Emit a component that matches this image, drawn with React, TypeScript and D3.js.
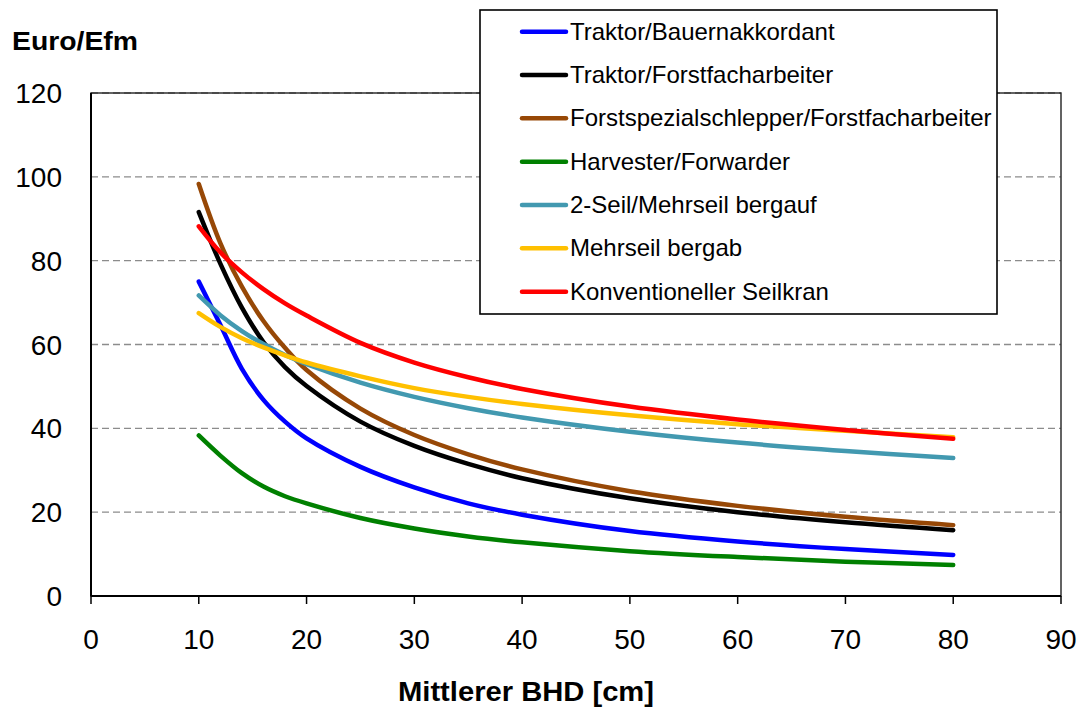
import React from "react";
import * as d3 from "d3";

// Mittlerer BHD [cm]
const bhd = [10, 12, 14, 16, 18, 20, 25, 30, 35, 40, 50, 60, 70, 80];

// Euro/Efm per Verfahren
const traktorBauernakkordant = [75.0, 64.7, 54.2, 46.8, 41.6, 37.6, 30.8, 25.9, 22.1, 19.4, 15.5, 13.0, 11.2, 9.8];
const traktorForstfacharbeiter = [91.6, 79.3, 68.8, 60.6, 54.6, 50.1, 41.6, 35.8, 31.5, 28.1, 23.3, 20.0, 17.6, 15.7];
const forstspezialschlepper = [98.3, 84.2, 73.8, 65.6, 59.2, 53.9, 44.7, 38.4, 33.8, 30.2, 25.0, 21.5, 18.9, 16.9];
const harvesterForwarder = [38.3, 33.5, 29.3, 26.1, 23.8, 22.1, 18.6, 16.1, 14.2, 12.8, 10.7, 9.3, 8.2, 7.4];
const zweiSeilBergauf = [71.7, 67.0, 63.2, 60.1, 57.5, 55.3, 50.9, 47.5, 44.8, 42.6, 39.2, 36.6, 34.6, 32.9];
const mehrseilBergab = [67.5, 64.2, 61.5, 59.3, 57.4, 55.7, 52.4, 49.6, 47.5, 45.8, 43.1, 41.0, 39.4, 37.9];
const konventionellerSeilkran = [88.2, 82.0, 77.2, 73.2, 69.8, 66.9, 60.4, 55.7, 52.2, 49.4, 45.2, 42.1, 39.6, 37.5];

const seriesNames = [
  "Traktor/Bauernakkordant",
  "Traktor/Forstfacharbeiter",
  "Forstspezialschlepper/Forstfacharbeiter",
  "Harvester/Forwarder",
  "2-Seil/Mehrseil bergauf",
  "Mehrseil bergab",
  "Konventioneller Seilkran",
];
const seriesValues = [
  traktorBauernakkordant,
  traktorForstfacharbeiter,
  forstspezialschlepper,
  harvesterForwarder,
  zweiSeilBergauf,
  mehrseilBergab,
  konventionellerSeilkran,
];
const seriesColors = ["#0000FF", "#000000", "#974806", "#008000", "#4299B0", "#FFC000", "#FF0000"];

const xTicks = [0, 10, 20, 30, 40, 50, 60, 70, 80, 90];
const yTicks = [0, 20, 40, 60, 80, 100, 120];

const W = 1082;
const H = 709;
const left = 91;
const right = 1061;
const top = 93;
const bottom = 596;

const FONT = "'Liberation Sans', Arial, sans-serif";

export default function App() {
  const x = d3.scaleLinear().domain([0, 90]).range([left, right]);
  const y = d3.scaleLinear().domain([0, 120]).range([bottom, top]);

  const line = d3
    .line<number>()
    .x((_, i) => x(bhd[i]))
    .y((d) => y(d))
    .curve(d3.curveCatmullRom.alpha(0.5));

  const legendX = 480;
  const legendY = 10;
  const legendW = 517;
  const legendH = 304;
  const rowY = (i: number) => 31.7 + i * 43.33;

  return (
    <svg
      width={W}
      height={H}
      viewBox={`0 0 ${W} ${H}`}
      style={{ position: "absolute", left: 0, top: 0, background: "#fff" }}
      fontFamily={FONT}
    >
      <rect x={0} y={0} width={W} height={H} fill="#fff" />

      {/* horizontal gridlines */}
      {yTicks.slice(1).map((t) => (
        <line
          key={`g${t}`}
          x1={left}
          x2={right}
          y1={y(t)}
          y2={y(t)}
          stroke="#8c8c8c"
          strokeWidth={1.3}
          strokeDasharray="7,4"
        />
      ))}

      {/* plot frame */}
      <rect x={left} y={top} width={right - left} height={bottom - top} fill="none" stroke="#222" strokeWidth={1.4} />
      <line x1={left} x2={left} y1={top} y2={bottom} stroke="#000" strokeWidth={2} />
      <line x1={left} x2={right} y1={bottom} y2={bottom} stroke="#000" strokeWidth={2} />

      {/* x ticks */}
      {xTicks.map((t) => (
        <g key={`xt${t}`}>
          <line x1={x(t)} x2={x(t)} y1={bottom} y2={bottom + 8} stroke="#000" strokeWidth={1.5} />
          <text x={x(t)} y={649} textAnchor="middle" fontSize={28} fill="#000">
            {t}
          </text>
        </g>
      ))}

      {/* y tick labels */}
      {yTicks.map((t) => (
        <text key={`yt${t}`} x={62} y={y(t) + 10} textAnchor="end" fontSize={28} fill="#000">
          {t}
        </text>
      ))}

      {/* series */}
      {seriesValues.map((vals, i) => (
        <path
          key={seriesNames[i]}
          d={line(vals) ?? ""}
          fill="none"
          stroke={seriesColors[i]}
          strokeWidth={4.5}
          strokeLinecap="round"
          strokeLinejoin="round"
        />
      ))}

      {/* axis titles */}
      <text x={12} y={50} fontSize={25} fontWeight="bold" fill="#000" textLength={126} lengthAdjust="spacingAndGlyphs">
        Euro/Efm
      </text>
      <text
        x={398}
        y={701}
        fontSize={27}
        fontWeight="bold"
        fill="#000"
        textLength={256}
        lengthAdjust="spacingAndGlyphs"
      >
        Mittlerer BHD [cm]
      </text>

      {/* legend */}
      <rect x={legendX} y={legendY} width={legendW} height={legendH} fill="#fff" stroke="#000" strokeWidth={1.6} />
      {seriesNames.map((name, i) => (
        <g key={`lg${i}`}>
          <line
            x1={522}
            x2={566}
            y1={rowY(i)}
            y2={rowY(i)}
            stroke={seriesColors[i]}
            strokeWidth={4.5}
            strokeLinecap="round"
          />
          <text x={570} y={rowY(i) + 8} fontSize={24} fill="#000">
            {name}
          </text>
        </g>
      ))}
    </svg>
  );
}
